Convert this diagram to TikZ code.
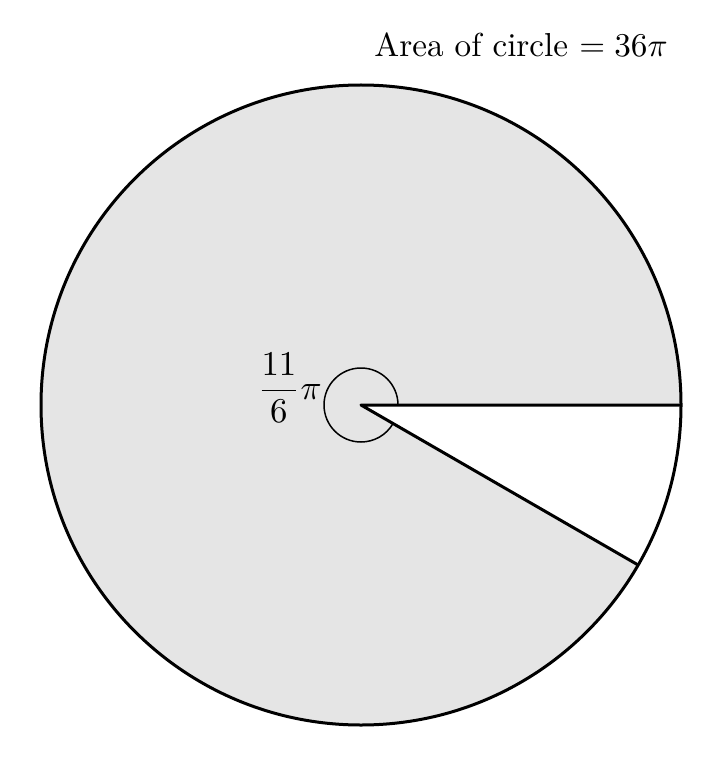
\documentclass[tikz,border=0pt]{standalone}
\usepackage{amsmath}
\usepackage{graphicx}
\begin{document}
\begin{tikzpicture}[x=1pt,y=1pt,
  thickline/.style={line width=1.5pt,line join=round},
  thinline/.style={line width=0.75pt},
  lbl/.style={inner sep=0pt}]
\useasboundingbox (0,0) rectangle (362,-385);
\coordinate (O) at (180.5,-202.5);
\fill[gray!20] (O) -- ++(0:160) arc[start angle=0,end angle=330,radius=160] -- cycle;
\draw[thinline] (O) ++(0:18.5) arc[start angle=0,end angle=330,radius=18.5];
\draw[thickline] (O) ++(0:160) coordinate (A) -- (O) -- ++(330:160) coordinate (B);
\draw[thickline] (O) circle[radius=160];
\node[lbl,anchor=base] (title) at (260.5,-28.5) {\scalebox{1.66}{Area of circle $= 36\pi$}};
\node[lbl,anchor=east] (ang) at (161,-194) {\scalebox{1.74}{$\dfrac{11}{6}\pi$}};
\end{tikzpicture}
\end{document}
